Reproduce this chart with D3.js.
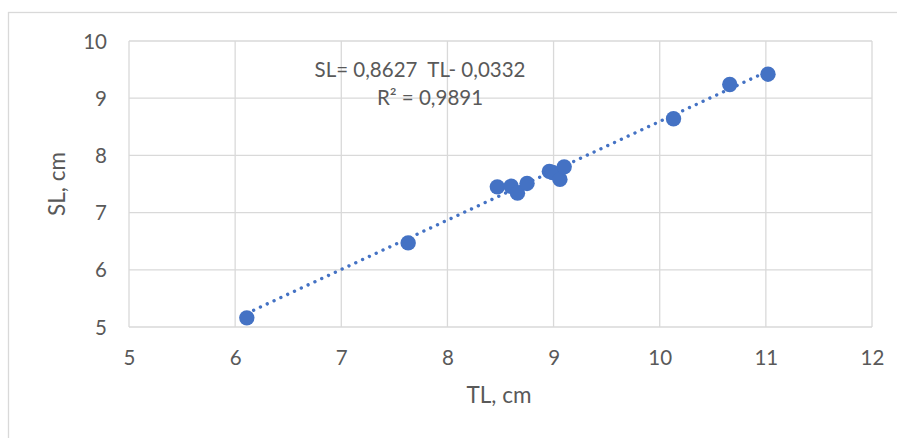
<!DOCTYPE html>
<html>
<head>
<meta charset="utf-8">
<script src="https://cdn.jsdelivr.net/npm/d3@7"></script>
<style>
  html, body { margin: 0; padding: 0; background: #fff; }
  svg { display: block; }
  text { font-family: Lato, "Open Sans", sans-serif; fill: #595959; }
</style>
</head>
<body>
<div id="chart"></div>
<script>
const tl = [6.11, 7.63, 8.47, 8.60, 8.66, 8.75, 8.96, 8.99, 9.06, 9.10, 10.13, 10.66, 11.02];
const sl = [5.16, 6.47, 7.45, 7.46, 7.34, 7.51, 7.72, 7.70, 7.58, 7.80, 8.64, 9.24, 9.42];
const xTicks = [5, 6, 7, 8, 9, 10, 11, 12];
const yTicks = [5, 6, 7, 8, 9, 10];
const slope = 0.8627, intercept = -0.0332;
const eqLine1 = "SL= 0,8627  TL- 0,0332";
const eqLine2 = "R² = 0,9891";
const xTitle = "TL, cm";
const yTitle = "SL, cm";

const W = 897, H = 438;
const svg = d3.select("#chart").append("svg").attr("width", W).attr("height", H);

// outer chart border (clipped by window on right/bottom)
svg.append("rect").attr("x", 8.5).attr("y", 12.5).attr("width", 1000).attr("height", 1000)
  .attr("fill", "none").attr("stroke", "#d9d9d9").attr("stroke-width", 1.3);

const x = d3.scaleLinear().domain([5, 12]).range([129, 872]);
const y = d3.scaleLinear().domain([5, 10]).range([327, 41]);

// gridlines
svg.append("g").selectAll("line").data(xTicks).join("line")
  .attr("x1", d => x(d)).attr("x2", d => x(d)).attr("y1", y(10)).attr("y2", y(5))
  .attr("stroke", "#d9d9d9").attr("stroke-width", 1.3);
svg.append("g").selectAll("line").data(yTicks).join("line")
  .attr("x1", x(5)).attr("x2", x(12)).attr("y1", d => y(d)).attr("y2", d => y(d))
  .attr("stroke", "#d9d9d9").attr("stroke-width", 1.3);

// axes (labels only)
const xAxis = svg.append("g").attr("transform", `translate(0,${y(5)})`)
  .call(d3.axisBottom(x).tickValues(xTicks).tickSize(0).tickPadding(0).tickFormat(d3.format("d")));
xAxis.select(".domain").remove();
xAxis.selectAll("text").attr("y", 38).attr("dy", null).style("font-size", "20.5px").attr("fill", "#595959");

const yAxis = svg.append("g").attr("transform", `translate(${x(5)},0)`)
  .call(d3.axisLeft(y).tickValues(yTicks).tickSize(0).tickPadding(0).tickFormat(d3.format("d")));
yAxis.select(".domain").remove();
yAxis.selectAll("text").attr("x", -22).attr("dy", "0.35em").style("font-size", "20.5px").attr("fill", "#595959");

// trendline
const x0 = d3.min(tl), x1 = d3.max(tl);
svg.append("line")
  .attr("x1", x(x0)).attr("y1", y(slope * x0 + intercept))
  .attr("x2", x(x1)).attr("y2", y(slope * x1 + intercept))
  .attr("stroke", "#4472C4").attr("stroke-width", 3.4)
  .attr("stroke-linecap", "round").attr("stroke-dasharray", "0.01 7.5");

// points
svg.append("g").selectAll("circle").data(tl.map((d, i) => [d, sl[i]])).join("circle")
  .attr("cx", d => x(d[0])).attr("cy", d => y(d[1])).attr("r", 7.7)
  .attr("fill", "#4472C4");

// equation
svg.append("text").attr("x", 420).attr("y", 77).attr("text-anchor", "middle")
  .style("font-size", "20.5px").style("white-space", "pre").text(eqLine1);
svg.append("text").attr("x", 430).attr("y", 105).attr("text-anchor", "middle")
  .style("font-size", "20.5px").text(eqLine2);

// axis titles
svg.append("text").attr("x", 499).attr("y", 403).attr("text-anchor", "middle")
  .style("font-size", "22.5px").text(xTitle);
svg.append("text").attr("transform", "translate(65,184) rotate(-90)").attr("text-anchor", "middle")
  .style("font-size", "22.5px").text(yTitle);
</script>
</body>
</html>
